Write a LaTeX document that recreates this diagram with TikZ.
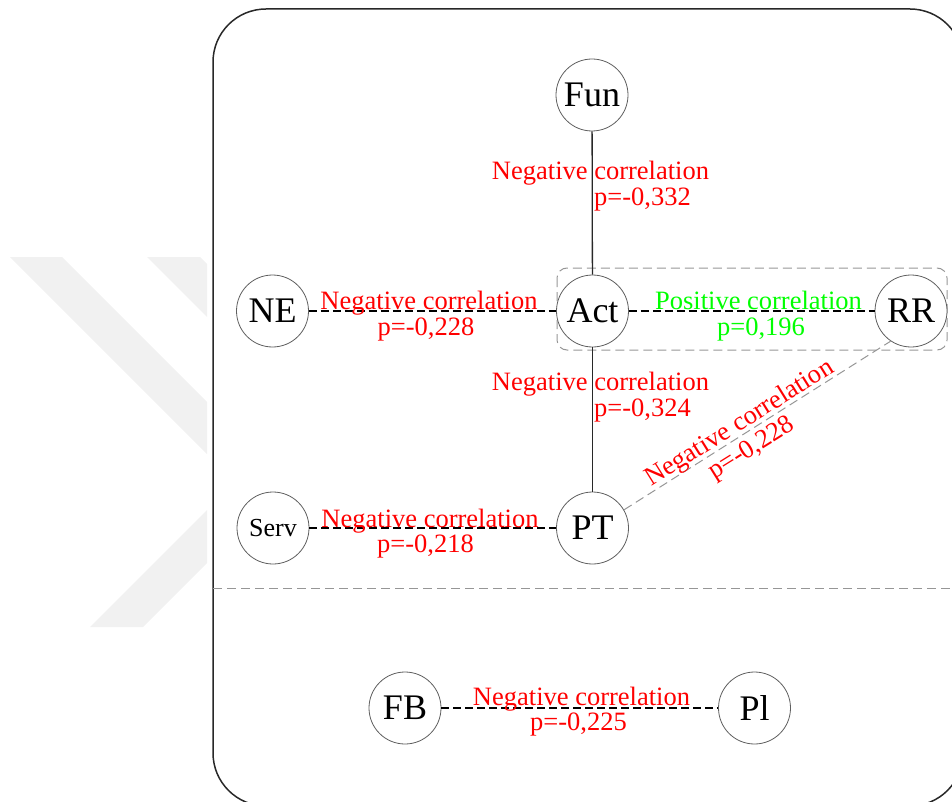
\documentclass[tikz,border=0pt]{standalone}
\usepackage{fontspec}
\setmainfont{Liberation Serif}
\definecolor{wm}{RGB}{241,241,241}
\definecolor{negred}{RGB}{255,0,0}
\definecolor{posgreen}{RGB}{0,255,0}
\definecolor{rim}{RGB}{95,95,95}
\definecolor{frame}{RGB}{40,40,40}
\definecolor{dashgray}{RGB}{150,150,150}

\begin{document}
\begin{tikzpicture}[x=1pt,y=-1pt,
  var/.style={circle, draw=rim, line width=0.8pt, fill=white, minimum size=72pt,
    inner sep=0pt, font=\fontsize{36}{38}\selectfont},
  smallvar/.style={var, font=\fontsize{26}{28}\selectfont},
  solidlink/.style={draw=frame, line width=1.3pt},
  dashlink/.style={draw=black, line width=1.3pt, dash pattern=on 8pt off 4pt},
  greylink/.style={draw=dashgray, line width=1pt, dash pattern=on 9pt off 5pt},
  neglabel/.style={text=negred, font=\fontsize{26.5}{28}\selectfont, inner sep=0pt, anchor=base},
  poslabel/.style={neglabel, text=posgreen},
]
\useasboundingbox (0,0) rectangle (952,802);
\clip (0,0) rectangle (952,802);

% faint chevron watermark on the left margin
\fill[wm] (10,257) -- (62,257) -- (207,402) -- (207,454) -- cycle;
\fill[wm] (147,257) -- (200,257) -- (207,264) -- (207,317) -- cycle;
\fill[wm] (90,627) -- (143,627) -- (207,563) -- (207,510) -- cycle;

% outer frame and the separator between the two groups
\draw[frame, line width=1.5pt, rounded corners=53pt] (213,9) rectangle (963,806);
\draw[greylink] (213,588) -- (952,588);

% grouping box around Act and RR
\draw[greylink, rounded corners=10pt] (557,268) rectangle (947,350);

% variables
\node[var] (fun) at (592,95) {Fun};
\node[var] (ne) at (272.5,311) {NE};
\node[var] (act) at (592.5,311) {Act};
\node[var] (rr) at (911,311) {RR};
\node[smallvar] (serv) at (273,528) {Serv};
\node[var] (pt) at (592.5,528) {PT};
\node[var] (fb) at (405,708) {FB};
\node[var] (pl) at (754.5,708) {Pl};

% correlations
\draw[solidlink] (fun) -- (act);
\draw[solidlink] (act) -- (pt);
\draw[dashlink] (ne) -- (act);
\draw[dashlink] (act) -- (rr);
\draw[dashlink] (serv) -- (pt);
\draw[dashlink] (fb) -- (pl);
\draw[greylink] (pt.30) -- (rr.236);

% labels
\node[neglabel] (l1a) at (600.5,180) {Negative correlation};
\node[neglabel] (l1b) at (642.5,206) {p=-0,332};
\node[neglabel] (l2a) at (429,309) {Negative correlation};
\node[neglabel] (l2b) at (426,335) {p=-0,228};
\node[poslabel] (l3a) at (758.5,309) {Positive correlation};
\node[poslabel] (l3b) at (761,335) {p=0,196};
\node[neglabel] (l4a) at (600.5,390) {Negative correlation};
\node[neglabel] (l4b) at (642.5,416) {p=-0,324};
\node[neglabel] (l5a) at (430,527) {Negative correlation};
\node[neglabel] (l5b) at (425.5,552) {p=-0,218};
\node[neglabel] (l6a) at (581.5,705) {Negative correlation};
\node[neglabel] (l6b) at (578.5,730) {p=-0,225};
\node[neglabel, anchor=center, rotate=32] (l7a) at (740,424) {Negative correlation};
\node[neglabel, anchor=center, rotate=32] (l7b) at (752,449) {p=-0,228};
\end{tikzpicture}
\end{document}
